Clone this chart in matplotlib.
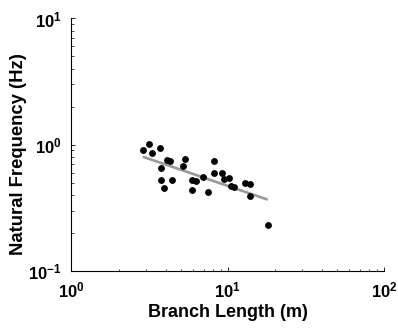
import math
import matplotlib
matplotlib.use("Agg")
import matplotlib.pyplot as plt
from matplotlib.ticker import LogLocator, FuncFormatter, NullFormatter

plt.rcParams['font.family'] = ['Liberation Sans', 'DejaVu Sans']
plt.rcParams['mathtext.fontset'] = 'custom'
plt.rcParams['mathtext.rm'] = 'Liberation Sans:bold'
plt.rcParams['mathtext.bf'] = 'Liberation Sans:bold'
plt.rcParams['mathtext.it'] = 'Liberation Sans:bold'

branch_length = [2.88, 3.15, 3.27, 3.67, 4.07, 4.27, 5.30, 5.15, 3.72, 3.76,
                 4.38, 3.91, 5.90, 6.27, 5.88, 6.94, 7.44, 8.17, 8.17, 9.15,
                 9.42, 10.23, 10.49, 10.96, 12.9, 13.94, 13.94, 18.02]
natural_freq = [0.906, 1.011, 0.863, 0.935, 0.751, 0.737, 0.773, 0.680, 0.652, 0.521,
                0.521, 0.453, 0.521, 0.514, 0.436, 0.556, 0.418, 0.737, 0.592, 0.599,
                0.531, 0.546, 0.467, 0.459, 0.496, 0.484, 0.389, 0.229]
fit_x = [2.86, 18.02]
fit_y = [0.802, 0.366]

fig = plt.figure(figsize=(3.98, 3.29), dpi=100)
ax = fig.add_axes([0.1796, 0.1772, 0.9648 - 0.1796, 0.9438 - 0.1772])

ax.plot(fit_x, fit_y, color='#999999', lw=1.9, solid_capstyle='butt', zorder=2)
ax.plot(branch_length, natural_freq, 'o', color='black', ms=3.9, zorder=3)

ax.set_xscale('log')
ax.set_yscale('log')
ax.set_xlim(1, 100)
ax.set_ylim(0.1, 10)

fmt = FuncFormatter(lambda v, p: r'$\mathbf{10^{%d}}$' % round(math.log10(v)))
ax.xaxis.set_major_locator(LogLocator(base=10))
ax.yaxis.set_major_locator(LogLocator(base=10))
ax.xaxis.set_minor_locator(LogLocator(base=10, subs=range(2, 10)))
ax.yaxis.set_minor_locator(LogLocator(base=10, subs=range(2, 10)))
ax.xaxis.set_major_formatter(fmt)
ax.yaxis.set_major_formatter(fmt)
ax.xaxis.set_minor_formatter(NullFormatter())
ax.yaxis.set_minor_formatter(NullFormatter())

for s in ['top', 'right']:
    ax.spines[s].set_visible(False)
for s in ['left', 'bottom']:
    ax.spines[s].set_linewidth(0.8)

ax.tick_params(which='major', direction='in', length=3, width=0.6, labelsize=12, pad=7)
ax.tick_params(which='minor', direction='in', length=1.8, width=0.5)

ax.set_xlabel('Branch Length (m)', fontsize=13, fontweight='bold', labelpad=3)
ax.set_ylabel('Natural Frequency (Hz)', fontsize=13.3, fontweight='bold')
ax.yaxis.set_label_coords(-0.142, 0.463)

fig.savefig('out.png', dpi=100)
